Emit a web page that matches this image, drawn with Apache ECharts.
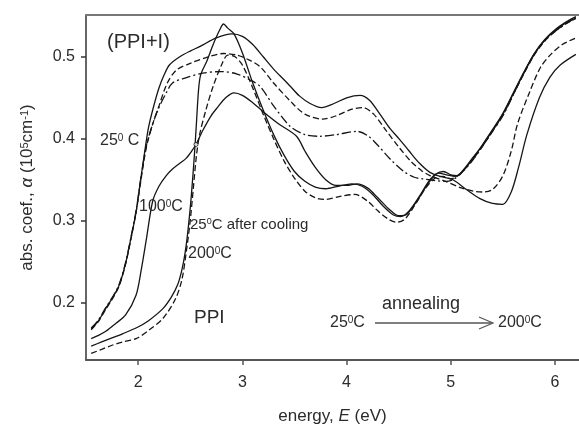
<!DOCTYPE html>
<html>
<head>
<meta charset="utf-8">
<script src="https://cdn.jsdelivr.net/npm/echarts@6/dist/echarts.min.js"></script>
<style>html,body{margin:0;padding:0;background:#fff}#c{width:579px;height:430px}</style>
</head>
<body>
<div id="c"></div>
<script>
// ---- data (energy in eV, absorption coefficient in 10^5 cm^-1) ----
const xTicks = [2, 3, 4, 5, 6];
const yTicks = [0.2, 0.3, 0.4, 0.5];

// PPI+I, 25 C (solid, highest broad peak)
const curve25 = [[1.55,0.168],[1.62,0.178],[1.69,0.193],[1.76,0.207],[1.82,0.222],[1.88,0.248],[1.93,0.278],[1.98,0.31],[2.03,0.355],[2.07,0.39],[2.1,0.414],[2.15,0.44],[2.2,0.462],[2.25,0.478],[2.3,0.49],[2.4,0.5],[2.5,0.507],[2.6,0.513],[2.75,0.523],[2.9,0.528],[3.0,0.525],[3.1,0.515],[3.2,0.5],[3.3,0.485],[3.4,0.472],[3.46,0.464],[3.55,0.452],[3.65,0.443],[3.76,0.438],[3.88,0.443],[4.0,0.45],[4.13,0.453],[4.22,0.447],[4.32,0.43],[4.42,0.412],[4.51,0.399],[4.6,0.385],[4.7,0.37],[4.8,0.359],[4.9,0.354],[5.02,0.35],[5.15,0.338],[5.28,0.327],[5.4,0.321],[5.5,0.32],[5.58,0.335],[5.65,0.365],[5.73,0.405],[5.85,0.45],[5.95,0.475],[6.05,0.49],[6.2,0.503]];
// dashed broad curve
const curveDash = [[1.55,0.167],[1.62,0.177],[1.69,0.192],[1.76,0.206],[1.82,0.221],[1.88,0.247],[1.93,0.277],[1.98,0.31],[2.03,0.352],[2.08,0.39],[2.14,0.418],[2.2,0.44],[2.28,0.468],[2.37,0.484],[2.5,0.492],[2.65,0.499],[2.82,0.504],[2.95,0.502],[3.05,0.497],[3.17,0.488],[3.3,0.468],[3.46,0.446],[3.6,0.43],[3.77,0.424],[3.9,0.428],[4.05,0.436],[4.16,0.438],[4.26,0.43],[4.38,0.41],[4.5,0.39],[4.62,0.372],[4.72,0.361],[4.8,0.355],[4.95,0.348],[5.1,0.34],[5.22,0.336],[5.31,0.335],[5.4,0.338],[5.5,0.355],[5.58,0.385],[5.64,0.418],[5.75,0.455],[5.86,0.487],[5.96,0.503],[6.07,0.515],[6.2,0.523]];
// dash-dot broad curve
const curveDashDot = [[1.55,0.169],[1.62,0.179],[1.69,0.194],[1.76,0.208],[1.82,0.223],[1.88,0.249],[1.93,0.279],[1.98,0.312],[2.03,0.355],[2.08,0.392],[2.14,0.418],[2.2,0.438],[2.27,0.456],[2.33,0.468],[2.45,0.474],[2.62,0.48],[2.8,0.482],[2.95,0.479],[3.07,0.472],[3.17,0.464],[3.3,0.44],[3.46,0.415],[3.6,0.405],[3.74,0.403],[3.9,0.405],[4.1,0.409],[4.2,0.404],[4.3,0.392],[4.42,0.375],[4.55,0.36],[4.65,0.353],[4.73,0.351],[4.85,0.349],[4.95,0.348],[5.02,0.35],[5.1,0.358],[5.2,0.372],[5.3,0.39],[5.4,0.409],[5.5,0.428],[5.6,0.454],[5.7,0.48],[5.8,0.503],[5.9,0.52],[6.0,0.531],[6.1,0.54],[6.2,0.548]];
// 100 C (solid, with shoulder)
const curve100 = [[1.55,0.156],[1.62,0.16],[1.69,0.165],[1.78,0.174],[1.88,0.185],[1.98,0.209],[2.03,0.24],[2.08,0.278],[2.14,0.324],[2.2,0.342],[2.27,0.355],[2.33,0.363],[2.4,0.37],[2.46,0.376],[2.52,0.386],[2.555,0.393],[2.62,0.41],[2.7,0.428],[2.76,0.438],[2.84,0.45],[2.92,0.456],[3.0,0.453],[3.1,0.444],[3.2,0.433],[3.35,0.418],[3.52,0.403],[3.6,0.385],[3.7,0.365],[3.8,0.35],[3.9,0.343],[4.0,0.343],[4.1,0.345],[4.2,0.34],[4.3,0.328],[4.4,0.315],[4.5,0.306],[4.58,0.308],[4.68,0.325],[4.78,0.345],[4.86,0.357],[4.93,0.36],[5.0,0.356],[5.06,0.355],[5.12,0.362],[5.2,0.375],[5.3,0.391],[5.4,0.41],[5.5,0.43],[5.6,0.455],[5.7,0.48],[5.8,0.503],[5.9,0.52],[6.0,0.532],[6.1,0.541],[6.2,0.547]];
// 25 C after cooling (solid, sharp peak)
const curveCool = [[1.55,0.147],[1.65,0.152],[1.75,0.157],[1.85,0.162],[1.98,0.169],[2.1,0.178],[2.24,0.193],[2.32,0.207],[2.38,0.222],[2.42,0.24],[2.45,0.26],[2.48,0.29],[2.51,0.33],[2.54,0.38],[2.56,0.42],[2.58,0.46],[2.6,0.478],[2.66,0.495],[2.72,0.515],[2.78,0.532],[2.82,0.54],[2.86,0.535],[2.92,0.528],[3.0,0.505],[3.1,0.468],[3.2,0.435],[3.3,0.405],[3.4,0.38],[3.5,0.36],[3.6,0.348],[3.7,0.341],[3.8,0.339],[3.92,0.342],[4.05,0.345],[4.15,0.342],[4.25,0.332],[4.35,0.318],[4.45,0.307],[4.52,0.305],[4.6,0.312],[4.7,0.33],[4.8,0.35],[4.88,0.358],[4.96,0.356],[5.04,0.354],[5.12,0.361],[5.2,0.374],[5.3,0.392],[5.4,0.411],[5.5,0.431],[5.6,0.456],[5.7,0.481],[5.8,0.504],[5.9,0.521],[6.0,0.533],[6.1,0.542],[6.2,0.549]];
// 200 C (dashed, steep edge)
const curve200 = [[1.55,0.138],[1.65,0.143],[1.75,0.148],[1.85,0.152],[1.98,0.156],[2.1,0.166],[2.24,0.181],[2.36,0.205],[2.42,0.228],[2.46,0.26],[2.5,0.3],[2.53,0.34],[2.56,0.38],[2.59,0.405],[2.65,0.435],[2.72,0.464],[2.8,0.49],[2.86,0.502],[2.93,0.5],[3.0,0.49],[3.1,0.462],[3.2,0.43],[3.3,0.4],[3.4,0.373],[3.5,0.352],[3.6,0.336],[3.7,0.328],[3.8,0.326],[3.95,0.33],[4.08,0.332],[4.2,0.324],[4.3,0.312],[4.4,0.302],[4.48,0.298],[4.56,0.302],[4.66,0.32],[4.76,0.34],[4.85,0.352],[4.93,0.354],[5.0,0.351],[5.08,0.356],[5.2,0.373],[5.3,0.39],[5.4,0.409],[5.5,0.429],[5.6,0.454],[5.7,0.479],[5.8,0.502],[5.9,0.519],[6.0,0.531],[6.1,0.54],[6.2,0.547]];
const crossingMark = [[2.555, 0.393]];

const seriesList = [
  {name: '25C', data: curve25, type: 'solid'},
  {name: 'dash', data: curveDash, type: [6, 3]},
  {name: 'dashdot', data: curveDashDot, type: [9, 3, 2, 3]},
  {name: '100C', data: curve100, type: 'solid'},
  {name: 'cool', data: curveCool, type: 'solid'},
  {name: '200C', data: curve200, type: [6, 3]}
];

const FONT = "'Liberation Sans', Arial, 'DejaVu Sans', sans-serif";
const TXT = '#2b2b2b';
const sup = {fontSize: 10, lineHeight: 10, verticalAlign: 'top', fontFamily: FONT, fill: TXT, color: TXT};

const chart = echarts.init(document.getElementById('c'), null, {renderer: 'canvas'});

function label(x, y, text, size, extra) {
  return Object.assign({
    type: 'text', x: x, y: y, z: 10,
    style: {
      text: text, fill: TXT, font: size + 'px ' + FONT,
      rich: {s: Object.assign({}, sup, {fontSize: Math.round(size * 0.62), lineHeight: Math.round(size * 0.62)})}
    }
  }, extra || {});
}

const option = {
  backgroundColor: '#fff',
  animation: false,
  grid: {left: 86, right: 0, top: 15, bottom: 68, containLabel: false},
  xAxis: [{
    type: 'value', min: 1.5, max: 6.23,
    name: 'energy, {i|E} (eV)', nameLocation: 'middle', nameGap: 48,
    nameTextStyle: {fontSize: 17, fontFamily: FONT, color: TXT,
      rich: {i: {fontStyle: 'italic', fontSize: 17, fontFamily: FONT, color: TXT}}},
    axisLine: {show: true, lineStyle: {color: '#555', width: 2}},
    axisTick: {show: true, length: 5, customValues: xTicks, lineStyle: {color: '#555', width: 1.5}},
    axisLabel: {customValues: xTicks, fontSize: 16, fontFamily: FONT, color: TXT, margin: 15},
    splitLine: {show: false}
  }, {
    type: 'value', position: 'top', min: 1.5, max: 6.23,
    axisLine: {show: true, lineStyle: {color: '#777', width: 2}},
    axisTick: {show: false}, axisLabel: {show: false}, splitLine: {show: false}
  }],
  yAxis: {
    type: 'value', min: 0.13, max: 0.551,
    name: 'abs. coef., {i|α} (10{s|5}cm{s|-1})', nameLocation: 'middle', nameGap: 50, nameRotate: 90,
    nameTextStyle: {fontSize: 17, fontFamily: FONT, color: TXT,
      rich: {i: {fontStyle: 'italic', fontSize: 17, fontFamily: FONT, color: TXT},
             s: {fontSize: 11, lineHeight: 11, verticalAlign: 'top', fontFamily: FONT, color: TXT}}},
    axisLine: {show: true, lineStyle: {color: '#333', width: 1.5}},
    axisTick: {show: true, length: 5, customValues: yTicks, lineStyle: {color: '#333', width: 1.5}},
    axisLabel: {customValues: yTicks, fontSize: 16, fontFamily: FONT, color: TXT, margin: 11,
      formatter: v => v.toFixed(1)},
    splitLine: {show: false}
  },
  series: seriesList.map(s => ({
    name: s.name, type: 'line', data: s.data, smooth: 0.3, showSymbol: false,
    lineStyle: {color: '#151515', width: 1.3, type: s.type}, z: 3
  })).concat([{
    type: 'scatter', data: crossingMark, symbol: 'circle', symbolSize: 4,
    itemStyle: {color: '#fff', borderColor: '#151515', borderWidth: 1}, z: 5
  }]),
  graphic: [
    label(107, 32, '(PPI+I)', 20),
    label(100, 133, '25{s|0} C', 16),
    label(139, 199, '100{s|0}C', 16),
    label(190, 217, '25{s|0}C after cooling', 15),
    label(188, 246, '200{s|0}C', 16),
    label(194, 308, 'PPI', 19),
    label(330, 315, '25{s|0}C', 16),
    label(382, 295, 'annealing', 18),
    label(498, 315, '200{s|0}C', 16),
    {type: 'line', shape: {x1: 375, y1: 323, x2: 492, y2: 323}, style: {stroke: '#555', lineWidth: 1.3}},
    {type: 'polyline', shape: {points: [[479, 317], [493, 323], [479, 329]]}, style: {stroke: '#555', lineWidth: 1.2, fill: null}}
  ]
};
chart.setOption(option);
</script>
</body>
</html>
